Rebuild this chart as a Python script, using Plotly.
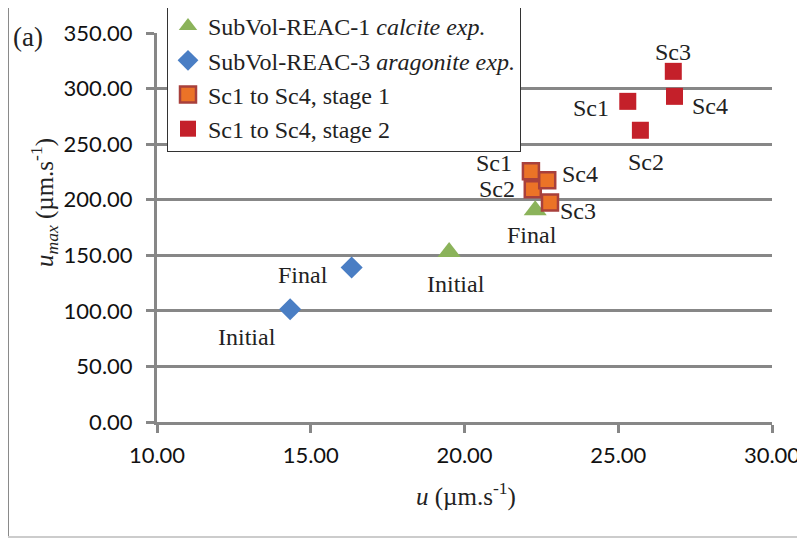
import plotly.graph_objects as go

# ---- data ----
calc_u = [19.5, 22.3]
calc_umax = [153.0, 190.5]
calc_labels = ["Initial", "Final"]

arag_u = [14.33, 16.33]
arag_umax = [101.5, 139.0]
arag_labels = ["Initial", "Final"]

st1_u = [22.16, 22.22, 22.78, 22.69]
st1_umax = [225.5, 209.5, 197.5, 217.5]
st1_labels = ["Sc1", "Sc2", "Sc3", "Sc4"]

st2_u = [25.31, 25.72, 26.79, 26.83]
st2_umax = [288.5, 262.5, 315.5, 293.0]
st2_labels = ["Sc1", "Sc2", "Sc3", "Sc4"]

# ---- label offsets (pixels, style only) ----
calc_off = [(7, -32), (-3, -25)]
arag_off = [(-43, -28), (-49, -7)]
st1_off = [(-37, 8), (-36, 0), (28, -9), (33, 6)]
st2_off = [(-37, -7), (6, -32), (0, 19), (35, -10)]

SERIF = "Liberation Serif"
SANS = "Lato"
GRID = "#878787"

fig = go.Figure()
fig.add_trace(go.Scatter(
    x=calc_u, y=calc_umax, mode="markers",
    name="SubVol-REAC-1 <i>calcite exp.</i>",
    marker=dict(symbol="triangle-up", size=20, color="#8BB35A"),
))
fig.add_trace(go.Scatter(
    x=arag_u, y=arag_umax, mode="markers",
    name="SubVol-REAC-3 <i>aragonite exp.</i>",
    marker=dict(symbol="diamond", size=17, color="#4A7EC4"),
))
fig.add_trace(go.Scatter(
    x=st1_u, y=st1_umax, mode="markers",
    name="Sc1 to Sc4, stage 1",
    marker=dict(symbol="square", size=16, color="#EB7327",
                line=dict(color="#A8403C", width=2.5)),
))
fig.add_trace(go.Scatter(
    x=st2_u, y=st2_umax, mode="markers",
    name="Sc1 to Sc4, stage 2",
    marker=dict(symbol="square", size=17, color="#C4202A"),
))

annotations = []
for xs, ys, labs, offs in [(calc_u, calc_umax, calc_labels, calc_off),
                           (arag_u, arag_umax, arag_labels, arag_off),
                           (st1_u, st1_umax, st1_labels, st1_off),
                           (st2_u, st2_umax, st2_labels, st2_off)]:
    for xv, yv, t, (dx, dy) in zip(xs, ys, labs, offs):
        annotations.append(dict(x=xv, y=yv, xref="x", yref="y", text=t,
                                showarrow=False, xshift=dx, yshift=dy,
                                xanchor="center", yanchor="middle",
                                font=dict(family=SERIF, size=24, color="#222222")))

# plot area in page pixels: left 157, right 772, top 33, bottom 422
# the page body adds an 8px offset to the figure
OFF = 8
L, R, T, B = 157, 772, 33, 422
W, H = R - L, B - T

def px_x(p):
    return (p - L) / W

def px_y(p):
    return (B - p) / H

annotations.append(dict(x=px_x(28), y=px_y(37), xref="paper", yref="paper",
                        xanchor="center", yanchor="middle",
                        text="(a)", showarrow=False,
                        font=dict(family=SERIF, size=27, color="#222222")))
annotations.append(dict(x=px_x(44), y=px_y(203), xref="paper", yref="paper",
                        xanchor="center", yanchor="middle",
                        text="<i>u</i><sub><i>max</i></sub> (µm.s<sup>-1</sup>)",
                        textangle=-90, showarrow=False,
                        font=dict(family=SERIF, size=25, color="#222222")))
annotations.append(dict(x=px_x(466), y=px_y(494), xref="paper", yref="paper",
                        xanchor="center", yanchor="middle",
                        text="<i>u</i> (µm.s<sup>-1</sup>)", showarrow=False,
                        font=dict(family=SERIF, size=25, color="#222222")))
annotations.append(dict(x=px_x(-2), y=px_y(-2), xref="paper", yref="paper",
                        xanchor="left", yanchor="middle",
                        text="<b>Figure 12</b>", showarrow=False,
                        font=dict(family="Liberation Sans", size=18, color="#000000")))

shapes = [
    dict(type="line", xref="paper", yref="paper", x0=px_x(8), x1=px_x(8),
         y0=px_y(5), y1=px_y(537), line=dict(color="#8a8a8a", width=2)),
    dict(type="line", xref="paper", yref="paper", x0=px_x(8), x1=px_x(820),
         y0=px_y(5), y1=px_y(5), line=dict(color="#8a8a8a", width=2)),
    dict(type="line", xref="paper", yref="paper", x0=px_x(8), x1=px_x(820),
         y0=px_y(537), y1=px_y(537), line=dict(color="#cccccc", width=2)),
]

fig.update_layout(
    width=805, height=539,
    margin=dict(l=L - OFF, r=805 - (R - OFF), t=T - OFF, b=539 - (B - OFF),
                autoexpand=False),
    paper_bgcolor="white", plot_bgcolor="white",
    showlegend=True,
    legend=dict(x=px_x(167), y=px_y(3), xanchor="left", yanchor="top",
                bgcolor="white", bordercolor="#333333", borderwidth=1,
                font=dict(family=SERIF, size=24, color="#222222"),
                tracegroupgap=0, itemsizing="trace"),
    annotations=annotations,
    shapes=shapes,
)
fig.update_xaxes(range=[10, 30], dtick=5, tick0=10, tickformat=".2f",
                 showgrid=False, zeroline=False,
                 showline=True, linecolor=GRID, linewidth=3,
                 ticks="outside", ticklen=8, tickwidth=3, tickcolor=GRID,
                 ticklabelstandoff=4,
                 tickfont=dict(family=SANS, size=22, color="#111111"))
fig.update_yaxes(range=[0, 350], dtick=50, tick0=0, tickformat=".2f",
                 showgrid=True, gridcolor=GRID, gridwidth=3, zeroline=False,
                 showline=True, linecolor=GRID, linewidth=3,
                 ticks="outside", ticklen=8, tickwidth=3, tickcolor=GRID,
                 ticklabelstandoff=9,
                 tickfont=dict(family=SANS, size=22, color="#111111"))

fig.write_html("out.html")
